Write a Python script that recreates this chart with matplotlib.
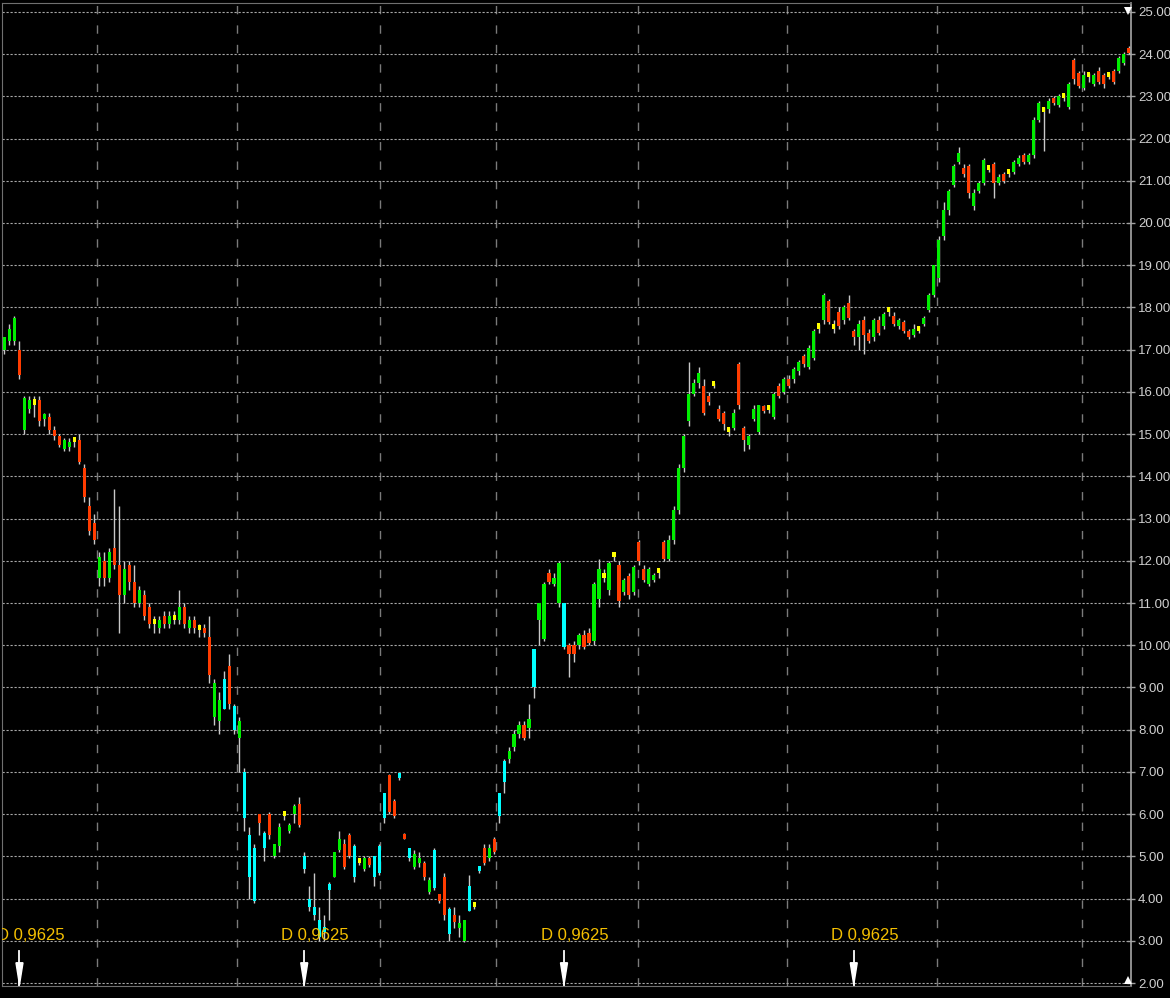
import numpy as np
import matplotlib
matplotlib.use("Agg")
import matplotlib.pyplot as plt
from matplotlib import font_manager

# daily candles (price in currency units)
opens = [17.0, 17.2, 17.2, 17.0, 15.1, 15.6, 15.7, 15.8, 15.35, 15.4,
         15.1, 14.95, 14.65, 14.7, 14.85, 14.85, 14.2, 13.3, 12.9, 11.6,
         12.0, 11.6, 12.3, 11.9, 11.2, 11.9, 11.5, 11.0, 11.2, 10.9,
         10.55, 10.4, 10.7, 10.5, 10.6, 10.6, 10.9, 10.4, 10.6, 10.35,
         10.4, 10.2, 8.3, 8.2, 9.2, 9.5, 8.55, 7.8, 7.0, 5.5,
         5.2, 6.0, 5.55, 6.0, 5.0, 5.25, 5.95, 5.6, 6.0, 6.25,
         5.0, 4.0, 3.8, 3.5, 3.3, 4.35, 4.5, 5.15, 5.3, 5.5,
         5.25, 4.85, 4.7, 4.95, 5.0, 4.6, 5.9, 6.93, 6.3, 6.9,
         5.5, 5.2, 4.75, 4.85, 4.85, 4.15, 5.15, 4.1, 4.5, 3.75,
         3.6, 3.3, 3.0, 3.7, 3.82, 4.7, 5.2, 4.95, 5.4, 5.95,
         6.75, 7.3, 7.6, 7.9, 8.1, 8.05, 9.0, 10.6, 10.15, 11.7,
         11.45, 11.0, 11.0, 10.0, 10.0, 10.0, 10.25, 10.3, 10.1, 11.1,
         11.62, 11.3, 12.1, 11.9, 11.25, 11.65, 11.25, 12.45, 11.8, 11.45,
         11.55, 11.7, 12.45, 12.05, 12.5, 13.2, 14.2, 15.3, 15.95, 16.2,
         16.15, 15.9, 16.15, 15.6, 15.5, 15.05, 15.15, 16.65, 15.15, 14.75,
         15.35, 15.05, 15.65, 15.6, 15.4, 16.15, 16.0, 16.3, 16.3, 16.5,
         16.85, 16.6, 16.8, 17.5, 17.7, 18.15, 17.5, 17.9, 17.7, 18.1,
         17.45, 17.3, 17.7, 17.4, 17.3, 17.7, 17.55, 17.9, 17.8, 17.55,
         17.65, 17.45, 17.35, 17.45, 17.6, 17.95, 18.3, 18.7, 19.7, 20.3,
         20.9, 21.45, 21.3, 21.35, 20.4, 20.75, 20.95, 21.25, 21.4, 20.95,
         21.15, 21.15, 21.2, 21.4, 21.6, 21.45, 21.6, 22.45, 22.65, 22.7,
         22.95, 22.8, 22.95, 22.75, 23.85, 23.55, 23.2, 23.45, 23.3, 23.6,
         23.5, 23.45, 23.6, 23.6, 23.8, 24.15]

highs = [17.3, 17.6, 17.8, 17.2, 15.9, 15.9, 15.9, 15.9, 15.5, 15.5,
         15.2, 15.0, 14.9, 14.9, 14.9, 15.0, 14.3, 13.5, 13.1, 12.2,
         12.2, 12.3, 13.7, 13.3, 12.0, 12.0, 11.9, 11.4, 11.3, 11.0,
         10.7, 10.7, 10.8, 10.8, 10.8, 11.3, 11.0, 10.7, 10.7, 10.5,
         10.5, 10.7, 9.2, 8.9, 9.4, 9.8, 8.6, 8.3, 7.1, 5.7,
         5.3, 6.0, 5.6, 6.05, 5.3, 5.8, 6.05, 5.8, 6.25, 6.4,
         5.1, 4.3, 4.6, 3.8, 3.6, 4.4, 5.1, 5.6, 5.4, 5.55,
         5.3, 4.95, 5.0, 5.0, 5.0, 5.3, 6.5, 6.95, 6.35, 6.95,
         5.55, 5.2, 5.15, 5.1, 4.9, 4.5, 5.2, 4.1, 4.6, 3.8,
         3.8, 3.6, 3.5, 4.55, 3.9, 4.75, 5.3, 5.3, 5.45, 6.5,
         7.3, 7.6, 8.0, 8.2, 8.2, 8.6, 9.9, 11.0, 11.5, 11.8,
         11.7, 12.0, 11.0, 10.05, 10.1, 10.3, 10.35, 10.4, 11.5, 12.05,
         11.8, 12.0, 12.2, 12.0, 11.6, 11.7, 11.9, 12.5, 11.9, 11.85,
         11.7, 11.8, 12.5, 12.6, 13.3, 14.3, 15.0, 16.7, 16.3, 16.6,
         16.3, 16.0, 16.2, 15.7, 15.55, 15.15, 15.6, 16.7, 15.2, 15.0,
         15.7, 15.7, 15.7, 15.7, 16.0, 16.2, 16.35, 16.4, 16.6, 16.75,
         16.9, 17.1, 17.5, 17.6, 18.35, 18.2, 17.7, 18.0, 18.05, 18.3,
         17.5, 17.7, 17.8, 17.5, 17.75, 17.8, 17.9, 18.0, 17.9, 17.75,
         17.7, 17.5, 17.6, 17.55, 17.8, 18.35, 19.0, 19.7, 20.5, 20.8,
         21.4, 21.8, 21.4, 21.4, 20.8, 21.0, 21.55, 21.3, 21.45, 21.15,
         21.2, 21.2, 21.5, 21.6, 21.65, 21.65, 22.5, 22.9, 22.75, 22.95,
         23.0, 23.05, 23.05, 23.35, 23.9, 23.6, 23.6, 23.55, 23.55, 23.7,
         23.55, 23.55, 23.65, 23.95, 24.05, 24.2]

lows = [16.9, 17.1, 17.1, 16.3, 15.0, 15.5, 15.4, 15.2, 15.2, 15.0,
        14.85, 14.7, 14.6, 14.6, 14.7, 14.3, 13.4, 12.6, 12.4, 11.4,
        11.4, 11.5, 11.8, 10.3, 11.0, 11.3, 10.9, 10.9, 10.6, 10.4,
        10.3, 10.3, 10.4, 10.4, 10.5, 10.5, 10.4, 10.3, 10.3, 10.2,
        10.2, 9.1, 8.1, 7.9, 8.5, 8.5, 7.9, 7.0, 5.6, 4.0,
        3.9, 5.5, 4.9, 5.4, 4.95, 5.1, 5.85, 5.55, 5.8, 5.7,
        4.6, 3.7, 3.5, 3.0, 3.0, 3.5, 4.5, 5.1, 4.7, 4.95,
        4.4, 4.8, 4.65, 4.75, 4.3, 4.55, 5.8, 6.0, 5.9, 6.8,
        5.4, 4.9, 4.7, 4.75, 4.45, 4.1, 4.2, 3.9, 3.5, 3.0,
        3.3, 3.1, 2.98, 3.7, 3.75, 4.6, 4.8, 4.9, 5.05, 5.8,
        6.5, 7.2, 7.5, 7.8, 7.75, 7.8, 8.75, 10.0, 10.1, 11.45,
        11.4, 10.9, 9.9, 9.25, 9.6, 9.9, 9.9, 10.0, 10.0, 10.9,
        11.5, 11.2, 12.0, 10.9, 11.2, 11.1, 11.2, 11.9, 11.5, 11.4,
        11.5, 11.6, 12.0, 12.0, 12.4, 13.1, 14.1, 15.2, 15.9, 16.1,
        15.45, 15.7, 16.1, 15.3, 15.1, 14.95, 15.1, 15.6, 14.6, 14.65,
        15.3, 15.0, 15.5, 15.5, 15.35, 15.85, 15.95, 16.1, 16.2, 16.4,
        16.6, 16.55, 16.75, 17.4, 17.6, 17.6, 17.4, 17.5, 17.6, 17.7,
        17.1, 17.0, 16.9, 17.15, 17.2, 17.35, 17.5, 17.8, 17.55, 17.5,
        17.4, 17.25, 17.3, 17.4, 17.55, 17.9, 18.25, 18.6, 19.6, 20.2,
        20.85, 21.4, 21.1, 20.6, 20.3, 20.7, 20.9, 21.2, 20.6, 20.9,
        20.95, 21.1, 21.15, 21.35, 21.4, 21.4, 21.55, 22.4, 21.7, 22.6,
        22.8, 22.75, 22.9, 22.7, 23.3, 23.2, 23.15, 23.35, 23.25, 23.3,
        23.2, 23.4, 23.3, 23.55, 23.75, 24.0]

closes = [17.3, 17.5, 17.75, 16.4, 15.85, 15.8, 15.72, 15.3, 15.45, 15.1,
          14.95, 14.75, 14.85, 14.8, 14.82, 14.35, 13.5, 12.7, 12.5, 12.1,
          11.6, 12.2, 11.9, 11.2, 11.8, 11.5, 11.0, 11.3, 10.7, 10.5,
          10.5, 10.6, 10.5, 10.7, 10.62, 10.9, 10.5, 10.6, 10.4, 10.38,
          10.3, 9.3, 9.1, 8.7, 8.5, 8.6, 8.0, 8.2, 5.9, 4.5,
          3.95, 5.8, 5.2, 5.5, 5.3, 5.7, 6.0, 5.75, 6.2, 5.75,
          4.7, 3.8, 3.6, 3.1, 3.2, 4.2, 5.1, 5.4, 4.75, 5.0,
          4.5, 4.87, 4.95, 4.8, 4.5, 5.25, 6.5, 6.05, 5.95, 6.85,
          5.42, 4.95, 5.05, 4.92, 4.5, 4.45, 4.25, 3.95, 3.6, 3.15,
          3.45, 3.4, 3.5, 4.3, 3.8, 4.65, 4.85, 5.2, 5.1, 6.5,
          7.25, 7.5, 7.9, 8.1, 7.8, 8.25, 9.9, 11.0, 11.45, 11.5,
          11.6, 11.95, 9.95, 9.8, 9.8, 10.25, 9.95, 10.05, 11.45, 11.8,
          11.6, 11.95, 12.08, 11.05, 11.55, 11.2, 11.85, 12.0, 11.55, 11.8,
          11.65, 11.72, 12.05, 12.5, 13.2, 14.2, 14.95, 15.95, 16.2, 16.45,
          15.5, 15.75, 16.13, 15.35, 15.25, 15.05, 15.5, 15.7, 14.85, 14.95,
          15.6, 15.7, 15.55, 15.58, 15.95, 15.9, 16.3, 16.15, 16.55, 16.7,
          16.65, 17.05, 17.45, 17.52, 18.3, 17.65, 17.48, 17.55, 18.0, 17.75,
          17.3, 17.6, 17.35, 17.2, 17.7, 17.4, 17.85, 17.92, 17.6, 17.7,
          17.45, 17.3, 17.5, 17.47, 17.75, 18.3, 19.0, 19.6, 20.3, 20.75,
          21.35, 21.65, 21.15, 20.7, 20.7, 20.95, 21.5, 21.27, 20.95, 21.1,
          21.0, 21.15, 21.45, 21.55, 21.45, 21.6, 22.45, 22.85, 22.62, 22.9,
          22.85, 23.0, 22.97, 23.3, 23.4, 23.25, 23.5, 23.45, 23.5, 23.35,
          23.3, 23.48, 23.35, 23.9, 24.0, 24.02]

# candle colour codes: g up, r down, y flat, c gap
kinds = ("gggrggyrgr" "rrggyrrrrg" "rgrrgrrgrr" "ygrgygrgry" "rrggcrcgcc"
         "crcrggyggr" "ccccccggrr" "cygrcccrrc" "rcggrgcrrc" "rggcycrgrc"
         "cgggrgcggr" "ggcrrgrrgg" "ygyrgrgrrg" "gyrggggggg" "rryrrygrrg"
         "ggrygrgrgg" "rggygryrgr" "rgrrgrgyrg" "rrgygggggg" "ggrrgggyrg"
         "ryggrgggyg" "rgygrrgygr" "ryrggr")

# period separators (candle positions) and dividend days
period_x = [18.5, 46.5, 75.2, 98.4, 126.8, 156.6, 186.6, 215.6]
div_x = [3, 60, 112, 170]
div_label = "D 0,9625"
price_ticks = list(range(2, 26))

palette = {'g': '#00ee00', 'r': '#ff3c00', 'y': '#ffff00', 'c': '#00ffff'}

installed = {f.name for f in font_manager.fontManager.ttflist}
if 'Liberation Sans Narrow' in installed:
    label_font = ['Liberation Sans Narrow', 'DejaVu Sans']
    tick_size, div_size = 11.5, 13
else:
    label_font = ['Liberation Sans', 'DejaVu Sans']
    tick_size, div_size = 9.5, 12

o = np.array(opens)
h = np.array(highs)
l = np.array(lows)
c = np.array(closes)
x = np.arange(len(c))

fig = plt.figure(figsize=(11.7, 9.98), dpi=100, facecolor='black')
ax = fig.add_axes([2/1170, 12/998, 1129/1170, 983/998])
ax.set_facecolor('black')

# wicks then bodies
ax.vlines(x, l, h, color='#c8c8c8', lw=1, zorder=3)
body_low = np.minimum(o, c)
body_h = np.maximum(np.abs(c - o), 0.12)
ax.bar(x, body_h, bottom=body_low, width=0.62,
       color=[palette[k] for k in kinds], linewidth=0, zorder=4)

ax.set_xlim(-0.5, len(c) - 0.5)
ax.set_ylim(1.93, 25.21)

# grid and price scale
ax.set_yticks(price_ticks)
ax.set_yticklabels(["%.2f" % v for v in price_ticks])
ax.set_xticks(period_x)
ax.set_xticklabels([])
ax.tick_params(axis='x', length=0)
ax.yaxis.tick_right()
ax.tick_params(axis='y', direction='inout', length=6, width=1, color='#a0a0a0',
               labelcolor='#d0d0d0', pad=2)
for lab in ax.get_yticklabels():
    lab.set_family(label_font)
    lab.set_fontsize(tick_size)
ax.grid(axis='y', color='#a8a8a8', lw=0.8, linestyle=(0, (2, 1.6)), zorder=1)
ax.grid(axis='x', color='#7a7a7a', lw=1, linestyle=(0, (6, 8)), zorder=1)

for side in ['top', 'left', 'bottom']:
    ax.spines[side].set_color('#707070')
ax.spines['right'].set_color('#a8a8a8')
ax.spines['right'].set_linewidth(1.2)

# dividend markers
for dx in div_x:
    ax.plot([dx, dx], [1.93, 2.77], color='white', lw=1.3, zorder=6)
    ax.fill([dx - 0.7, dx + 0.7, dx], [2.48, 2.48, 1.96], color='white', zorder=6)
    ax.text(dx - 4.6, 3.03, div_label, color='#f5c000', fontsize=div_size,
            family=label_font, ha='left', va='baseline', zorder=7, clip_on=True)

# scroll markers at the right edge
ax.plot([0.997], [0.992], marker='v', ms=6, color='white', mew=0,
        transform=ax.transAxes, clip_on=False, zorder=8)
ax.plot([0.997], [0.006], marker='^', ms=6, color='white', mew=0,
        transform=ax.transAxes, clip_on=False, zorder=8)

fig.savefig('out.png', dpi=100, facecolor='black')
